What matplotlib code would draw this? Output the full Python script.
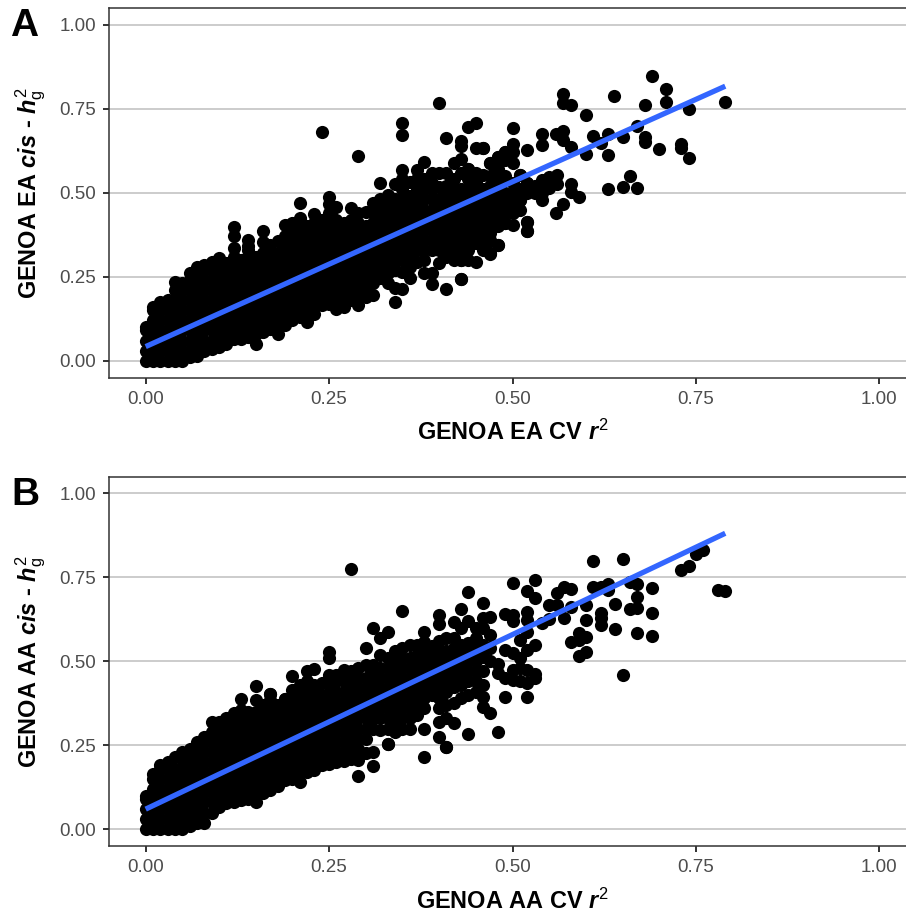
import matplotlib
matplotlib.use('Agg')
import matplotlib.pyplot as plt

plt.rcParams['font.family'] = ['Liberation Sans', 'DejaVu Sans']
plt.rcParams['mathtext.fontset'] = 'custom'
plt.rcParams['mathtext.rm'] = 'Liberation Sans'
plt.rcParams['mathtext.it'] = 'Liberation Sans:italic:bold'
plt.rcParams['mathtext.bf'] = 'Liberation Sans:bold'

ticks = [0.0, 0.25, 0.5, 0.75, 1.0]
tick_labels = ['0.00', '0.25', '0.50', '0.75', '1.00']

# panel A: dense part, one list of heritabilities per CV r2 value
a_col_x = [0.00, 0.01, 0.02, 0.03, 0.04, 0.05, 0.06, 0.07, 0.08, 0.09,
           0.10, 0.11, 0.12, 0.13, 0.14, 0.15, 0.16, 0.17, 0.18, 0.19,
           0.20, 0.21, 0.22, 0.23, 0.24, 0.25, 0.26, 0.27, 0.28, 0.29,
           0.30, 0.31, 0.32, 0.33, 0.34, 0.35, 0.36, 0.37, 0.38, 0.39,
           0.40, 0.41, 0.42, 0.43, 0.44, 0.45, 0.46, 0.47, 0.48, 0.49,
           0.50, 0.51, 0.52]
a_col_y = [
    [0, .03, .06, .09, .10],
    [0, .03, .06, .09, .12, .15, .16],
    [0, .03, .06, .09, .12, .15, .175],
    [0, .03, .06, .09, .12, .15, .18],
    [0, .03, .06, .09, .12, .15, .18, .21, .235],
    [0, .03, .06, .09, .12, .15, .18, .21, .23],
    [.01, .03, .06, .09, .12, .15, .18, .21, .24, .26],
    [.015, .04, .07, .10, .13, .16, .19, .22, .25, .28],
    [.03, .06, .09, .12, .15, .18, .21, .24, .27, .285],
    [.035, .06, .09, .12, .15, .18, .21, .24, .27, .295],
    [.04, .07, .10, .13, .16, .19, .22, .25, .28, .305],
    [.05, .08, .11, .14, .17, .20, .23, .26, .29],
    [.065, .09, .12, .15, .18, .21, .24, .27, .30, .31],
    [.066, .09, .12, .15, .18, .21, .24, .27, .30],
    [.07, .10, .13, .16, .19, .22, .25, .28, .31, .34, .36],
    [.05, .08, .11, .14, .17, .20, .23, .26, .29, .31],
    [.085, .11, .14, .17, .20, .23, .26, .29, .32, .354],
    [.095, .12, .15, .18, .21, .24, .27, .30, .33, .345],
    [.08, .11, .14, .17, .20, .23, .26, .29, .32, .355],
    [.105, .13, .16, .19, .22, .25, .28, .31, .34, .37, .405],
    [.12, .15, .18, .21, .24, .27, .30, .33, .36, .39, .41],
    [.13, .16, .19, .22, .25, .28, .31, .34, .37, .40, .424],
    [.115, .14, .17, .20, .23, .26, .29, .32, .35, .38, .40],
    [.14, .17, .20, .23, .26, .29, .32, .35, .38, .41, .438],
    [.165, .19, .22, .25, .28, .31, .34, .37, .40, .42],
    [.17, .20, .23, .26, .29, .32, .35, .38, .41, .44, .465, .486],
    [.155, .18, .21, .24, .27, .30, .33, .36, .39, .42, .458],
    [.16, .19, .22, .25, .28, .31, .34, .37, .40, .41],
    [.18, .21, .24, .27, .30, .33, .36, .39, .42, .453],
    [.165, .20, .23, .26, .29, .32, .35, .38, .41, .44],
    [.19, .22, .25, .28, .31, .34, .37, .40, .443],
    [.195, .23, .26, .29, .32, .35, .38, .41, .44, .468],
    [.245, .27, .30, .33, .36, .39, .42, .45, .48, .528],
    [.23, .26, .29, .32, .35, .38, .41, .44, .47, .493],
    [.175, .215, .27, .30, .33, .36, .39, .42, .45, .48, .526],
    [.212, .265, .30, .33, .36, .39, .42, .45, .48, .51, .54, .567],
    [.247, .28, .31, .34, .37, .40, .43, .46, .49, .533],
    [.295, .33, .36, .39, .42, .45, .48, .51, .54, .567],
    [.262, .30, .33, .36, .39, .42, .45, .48, .51, .54, .59],
    [.228, .26, .33, .36, .39, .42, .45, .48, .51, .53, .56],
    [.29, .33, .36, .39, .42, .45, .48, .518, .56],
    [.213, .31, .34, .37, .40, .43, .46, .49, .52, .56],
    [.30, .33, .36, .39, .42, .45, .48, .51, .54, .587],
    [.243, .30, .33, .36, .39, .42, .45, .48, .51, .56, .60],
    [.30, .33, .36, .39, .42, .45, .48, .51, .54, .572],
    [.295, .35, .38, .41, .44, .47, .50, .53, .558],
    [.33, .36, .39, .42, .45, .48, .51, .553],
    [.32, .36, .40, .43, .46, .49, .52, .55, .587],
    [.344, .42, .45, .48, .51, .54, .57, .607],
    [.41, .44, .47, .50, .55, .597, .622],
    [.404, .439, .47, .50, .53, .587],
    [.45, .479, .51, .553],
    [.386, .414, .50, .53],
]
# panel A: separate points
a_out_x = [.69, .709, .709, .79, .74, .639, .68, .569, .569, .58, .60, .67,
           .50, .45, .44, .54, .54, .50, .52, .559, .569, .569, .58, .61,
           .63, .65, .62, .60, .63, .68, .68, .70, .729, .729, .74, .66,
           .65, .67, .63, .58, .58, .59, .569, .559, .54, .53, .52, .52,
           .48, .47, .43, .43, .54, .55, .56, .55, .56, .51, .52, .50,
           .51, .49, .49, .48, .49, .47, .46, .45, .46, .43, .43, .44,
           .24, .29, .35, .35, .40, .41, .12, .12, .12, .16, .21, .14,
           .50, .46, .47, .48, .53, .54]
a_out_y = [.846, .809, .771, .769, .748, .788, .761, .794, .766, .76, .731, .699,
           .694, .708, .697, .675, .642, .646, .628, .674, .685, .657, .636, .67,
           .676, .665, .647, .614, .611, .665, .651, .63, .644, .633, .604, .551,
           .517, .515, .51, .526, .503, .488, .466, .439, .478, .50, .414, .386,
           .344, .317, .30, .243, .538, .548, .553, .513, .527, .553, .53, .493,
           .479, .459, .409, .607, .622, .587, .634, .634, .634, .655, .639, .572,
           .68, .609, .706, .672, .766, .662, .397, .371, .334, .387, .468, .33,
           .62, .34, .38, .40, .52, .50]

# panel B: dense part
b_col_x = [0.00, 0.01, 0.02, 0.03, 0.04, 0.05, 0.06, 0.07, 0.08, 0.09,
           0.10, 0.11, 0.12, 0.13, 0.14, 0.15, 0.16, 0.17, 0.18, 0.19,
           0.20, 0.21, 0.22, 0.23, 0.24, 0.25, 0.26, 0.27, 0.28, 0.29,
           0.30, 0.31, 0.32, 0.33, 0.34, 0.35, 0.36, 0.37, 0.38, 0.39,
           0.40, 0.41, 0.42, 0.43, 0.44, 0.45, 0.46, 0.47]
b_col_y = [
    [0, .03, .06, .09, .10],
    [0, .03, .06, .09, .12, .15, .165],
    [0, .03, .06, .09, .12, .15, .18, .19],
    [0, .03, .06, .09, .12, .15, .18, .20],
    [0, .03, .06, .09, .12, .15, .18, .216],
    [0, .03, .06, .09, .12, .15, .18, .21, .23],
    [.01, .04, .07, .10, .13, .16, .19, .22, .24],
    [.02, .05, .08, .11, .14, .17, .20, .23, .26],
    [.018, .05, .08, .11, .14, .17, .20, .23, .26, .275],
    [.05, .08, .11, .14, .17, .20, .23, .26, .29, .318],
    [.065, .09, .12, .15, .18, .21, .24, .27, .30, .32],
    [.077, .10, .13, .16, .19, .22, .25, .28, .31, .33],
    [.08, .11, .14, .17, .20, .23, .26, .29, .32, .345],
    [.087, .11, .14, .17, .20, .23, .26, .29, .32, .355],
    [.09, .12, .15, .18, .21, .24, .27, .30, .33, .35],
    [.082, .11, .14, .17, .20, .23, .26, .29, .32, .35],
    [.107, .13, .16, .19, .22, .25, .28, .31, .34, .37],
    [.117, .15, .18, .21, .24, .27, .30, .33, .36, .402],
    [.13, .16, .19, .22, .25, .28, .31, .34, .37],
    [.147, .18, .21, .24, .27, .30, .33, .36, .387],
    [.15, .18, .21, .24, .27, .30, .33, .36, .39, .415],
    [.142, .17, .20, .23, .26, .29, .32, .35, .38, .41, .43],
    [.17, .20, .23, .26, .29, .32, .35, .38, .41, .44],
    [.177, .21, .24, .27, .30, .33, .36, .39, .42, .43],
    [.19, .22, .25, .28, .31, .34, .37, .40, .435],
    [.194, .22, .25, .28, .31, .34, .37, .40, .43, .46],
    [.20, .23, .26, .29, .32, .35, .38, .41, .44, .46],
    [.203, .23, .26, .29, .32, .35, .38, .41, .44, .475],
    [.21, .24, .27, .30, .33, .36, .39, .42, .45, .47],
    [.16, .206, .24, .27, .30, .33, .36, .39, .42, .45, .48],
    [.226, .27, .30, .33, .36, .39, .42, .45, .49],
    [.188, .23, .30, .33, .36, .39, .42, .45, .47, .49],
    [.296, .33, .36, .39, .42, .45, .48, .52],
    [.253, .30, .33, .36, .39, .42, .45, .48, .51],
    [.29, .32, .35, .38, .41, .44, .47, .50, .53],
    [.30, .33, .36, .39, .42, .45, .48, .51, .54],
    [.30, .33, .36, .39, .42, .45, .48, .51, .55],
    [.34, .37, .40, .43, .46, .49, .52, .55],
    [.30, .36, .39, .42, .45, .48, .51, .53],
    [.40, .43, .46, .49, .52, .545],
    [.32, .36, .39, .42, .45, .48, .51, .53, .56],
    [.244, .33, .37, .41, .44, .47, .50, .53, .57],
    [.315, .375, .425, .45, .48, .51, .54, .57, .618],
    [.39, .43, .46, .49, .52, .55, .60, .656],
    [.285, .40, .44, .47, .50, .53, .554, .62],
    [.41, .44, .47, .50, .519, .55, .57, .60],
    [.365, .395, .43, .47, .514, .55, .598, .63],
    [.345, .50, .54, .578, .633],
]
# panel B: separate points
b_out_x = [.79, .78, .729, .74, .75, .76, .65, .61, .50, .53, .52, .53,
           .44, .46, .57, .58, .56, .55, .56, .58, .57, .54, .55, .61,
           .62, .63, .63, .66, .67, .69, .67, .66, .67, .69, .64, .60,
           .62, .62, .62, .60, .64, .67, .69, .59, .60, .58, .59, .59,
           .60, .65, .53, .52, .49, .49, .50, .50, .52, .52, .52, .51,
           .51, .50, .48, .48, .49, .50, .51, .52, .53, .53, .52, .51,
           .50, .49, .52, .48, .28, .35, .31, .33, .32, .30, .25, .25,
           .20, .22, .23, .15, .13, .15, .17, .17, .19, .40, .40, .38,
           .38, .33, .38, .40, .41]
b_out_y = [.71, .712, .771, .784, .818, .83, .804, .799, .732, .742, .71, .687,
           .707, .673, .722, .715, .702, .668, .668, .663, .63, .613, .626, .72,
           .72, .729, .712, .737, .73, .717, .692, .656, .658, .645, .671, .668,
           .643, .628, .608, .622, .596, .585, .575, .585, .573, .558, .563, .517,
           .527, .459, .549, .534, .534, .64, .638, .62, .648, .623, .588, .563,
           .509, .524, .492, .464, .449, .444, .44, .435, .449, .461, .474, .479,
           .474, .393, .393, .291, .775, .65, .60, .588, .568, .539, .529, .509,
           .457, .472, .477, .426, .387, .385, .402, .385, .387, .638, .61, .588,
           .558, .253, .216, .276, .244]

a_fit_x = [0.0, 0.79]
a_fit_y = [0.042, 0.817]
b_fit_x = [0.0, 0.79]
b_fit_y = [0.06, 0.881]


def draw_panel(ax, col_x, col_y, out_x, out_y, fit_x, fit_y, xlabel, ylabel):
    for x, ys in zip(col_x, col_y):
        ax.scatter([x] * len(ys), ys, s=90, color='black', linewidths=0, zorder=3)
    ax.scatter(out_x, out_y, s=90, color='black', linewidths=0, zorder=3)
    ax.plot(fit_x, fit_y, color='#3366FF', lw=3.8, solid_capstyle='butt', zorder=4)
    ax.set_xlim(-0.05, 1.05)
    ax.set_ylim(-0.05, 1.05)
    ax.set_xticks(ticks)
    ax.set_xticklabels(tick_labels)
    ax.set_yticks(ticks)
    ax.set_yticklabels(tick_labels)
    ax.tick_params(labelsize=13.5, labelcolor='#4D4D4D', color='#333333',
                   width=1.4, length=4.5, pad=5)
    ax.grid(axis='y', color='#BEBEBE', lw=1.1, zorder=1)
    ax.set_axisbelow(True)
    for spine in ax.spines.values():
        spine.set_color('#333333')
        spine.set_linewidth(1.1)
    ax.set_xlabel(xlabel, fontsize=16.9, fontweight='bold', labelpad=9)
    ax.set_ylabel(ylabel, fontsize=16.9, fontweight='bold', labelpad=8)


W, H = 906, 915
fig = plt.figure(figsize=(W / 100, H / 100), dpi=100)

ax_a = fig.add_axes([109 / W, 1 - 377.5 / H, 807 / W, 369.6 / H])
ax_b = fig.add_axes([109 / W, 1 - 846.1 / H, 807 / W, 369.6 / H])

draw_panel(ax_a, a_col_x, a_col_y, a_out_x, a_out_y, a_fit_x, a_fit_y,
           r'GENOA EA CV $\mathit{r}^{\mathrm{2}}$',
           r'GENOA EA $\mathit{cis}$ - $\mathit{h}_{\mathrm{g}}^{\mathrm{2}}$')
draw_panel(ax_b, b_col_x, b_col_y, b_out_x, b_out_y, b_fit_x, b_fit_y,
           r'GENOA AA CV $\mathit{r}^{\mathrm{2}}$',
           r'GENOA AA $\mathit{cis}$ - $\mathit{h}_{\mathrm{g}}^{\mathrm{2}}$')

fig.text(10 / W, 1 - 36 / H, 'A', fontsize=28, fontweight='bold', color='black')
fig.text(11 / W, 1 - 505 / H, 'B', fontsize=28, fontweight='bold', color='black')

fig.savefig('out.png', dpi=100)
